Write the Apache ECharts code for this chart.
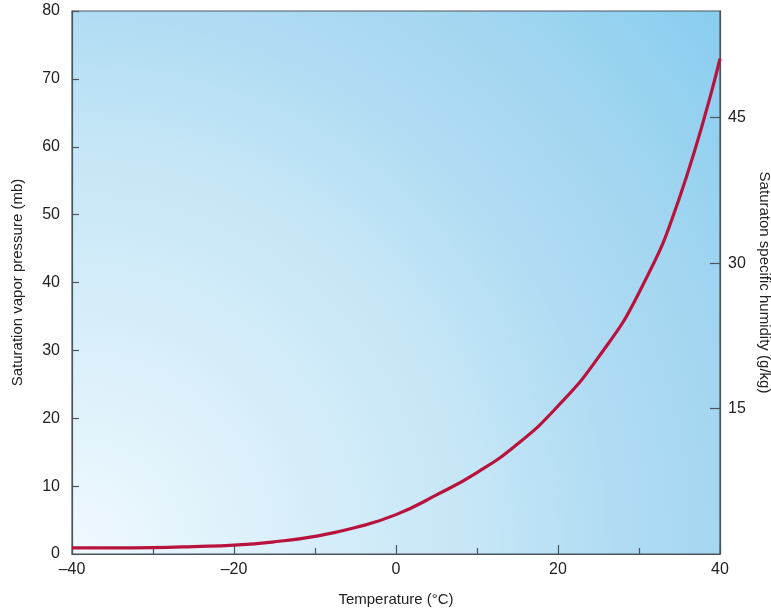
<!DOCTYPE html>
<html>
<head>
<meta charset="utf-8">
<script src="https://cdn.jsdelivr.net/npm/echarts@6/dist/echarts.min.js"></script>
<style>html,body{margin:0;padding:0;background:#fff}#c{width:771px;height:611px}</style>
</head>
<body>
<div id="c"></div>
<script>
const temperatures = [-40,-35,-30,-25,-20,-15,-10,-5,0,5,10,15,20,25,30,35,40];
const vaporPressure = [0.9,0.9,0.95,1.1,1.3,1.8,2.6,3.9,5.8,8.7,12.0,16.2,21.8,29.0,38.5,52.5,73.0];
const xTickLabels = [-40,-20,0,20,40];
const leftTickLabels = [0,10,20,30,40,50,60,70,80];
const rightTickLabels = [15,30,45];

const chart = echarts.init(document.getElementById('c'));
const font = '"Liberation Sans", Arial, Helvetica, sans-serif';
const axisCol = '#4a5560';
chart.setOption({
  animation: false,
  grid: {
    left: 72, right: 51, top: 11, bottom: 57,
    containLabel: false, outerBoundsMode: 'none',
    show: true,
    borderColor: axisCol, borderWidth: 1.2,
    backgroundColor: new echarts.graphic.RadialGradient(0, 1, 1.56, [
      {offset: 0, color: '#f0f9fe'},
      {offset: 0.5, color: '#c3e5f6'},
      {offset: 0.64, color: '#b0dcf3'},
      {offset: 0.76, color: '#a6d7f1'},
      {offset: 1, color: '#88cdef'}
    ])
  },
  xAxis: {
    type: 'value', min: -40, max: 40, interval: 20,
    name: 'Temperature (\u00B0C)', nameLocation: 'middle', nameGap: 38,
    nameTextStyle: {fontFamily: font, fontSize: 15, color: '#222'},
    axisLine: {onZero: false, lineStyle: {color: axisCol, width: 1.2}},
    axisTick: {inside: true, length: 9, lineStyle: {color: axisCol, width: 1.2}},
    minorTick: {show: true, splitNumber: 2, length: 6, lineStyle: {color: axisCol, width: 1.2}},
    axisLabel: {fontFamily: font, fontSize: 16, color: '#222', margin: 8,
      formatter: v => xTickLabels.includes(v) ? String(v).replace('-', '\u2013') : ''},
    splitLine: {show: false}
  },
  yAxis: [{
    type: 'value', min: 0, max: 80, interval: 10, position: 'left',
    name: 'Saturation vapor pressure (mb)', nameLocation: 'middle', nameGap: 47,
    nameTextStyle: {fontFamily: font, fontSize: 15, color: '#222'},
    axisLine: {show: true, onZero: false, lineStyle: {color: axisCol, width: 1.2}},
    axisTick: {show: true, inside: true, length: 7, lineStyle: {color: axisCol, width: 1.2}},
    axisLabel: {fontFamily: font, fontSize: 16, color: '#222', margin: 12,
      formatter: v => leftTickLabels.includes(v) ? String(v) : ''},
    splitLine: {show: false}
  }, {
    type: 'value', min: 0, max: 56, interval: 15, position: 'right',
    name: 'Saturaton specific humidity (g/kg)', nameLocation: 'middle', nameGap: 35, nameRotate: -90,
    nameTextStyle: {fontFamily: font, fontSize: 15, color: '#222'},
    axisLine: {show: true, onZero: false, lineStyle: {color: axisCol, width: 1.2}},
    axisTick: {show: true, inside: true, length: 10, lineStyle: {color: axisCol, width: 1.2}},
    axisLabel: {fontFamily: font, fontSize: 16, color: '#222', margin: 8,
      showMinLabel: false, showMaxLabel: false,
      formatter: v => rightTickLabels.includes(v) ? String(v) : ''},
    splitLine: {show: false}
  }],
  series: [{
    type: 'line', yAxisIndex: 0, smooth: 0.5, symbol: 'none',
    data: temperatures.map((t, i) => [t, vaporPressure[i]]),
    lineStyle: {color: '#b8133d', width: 3.2}
  }]
});
</script>
</body>
</html>
